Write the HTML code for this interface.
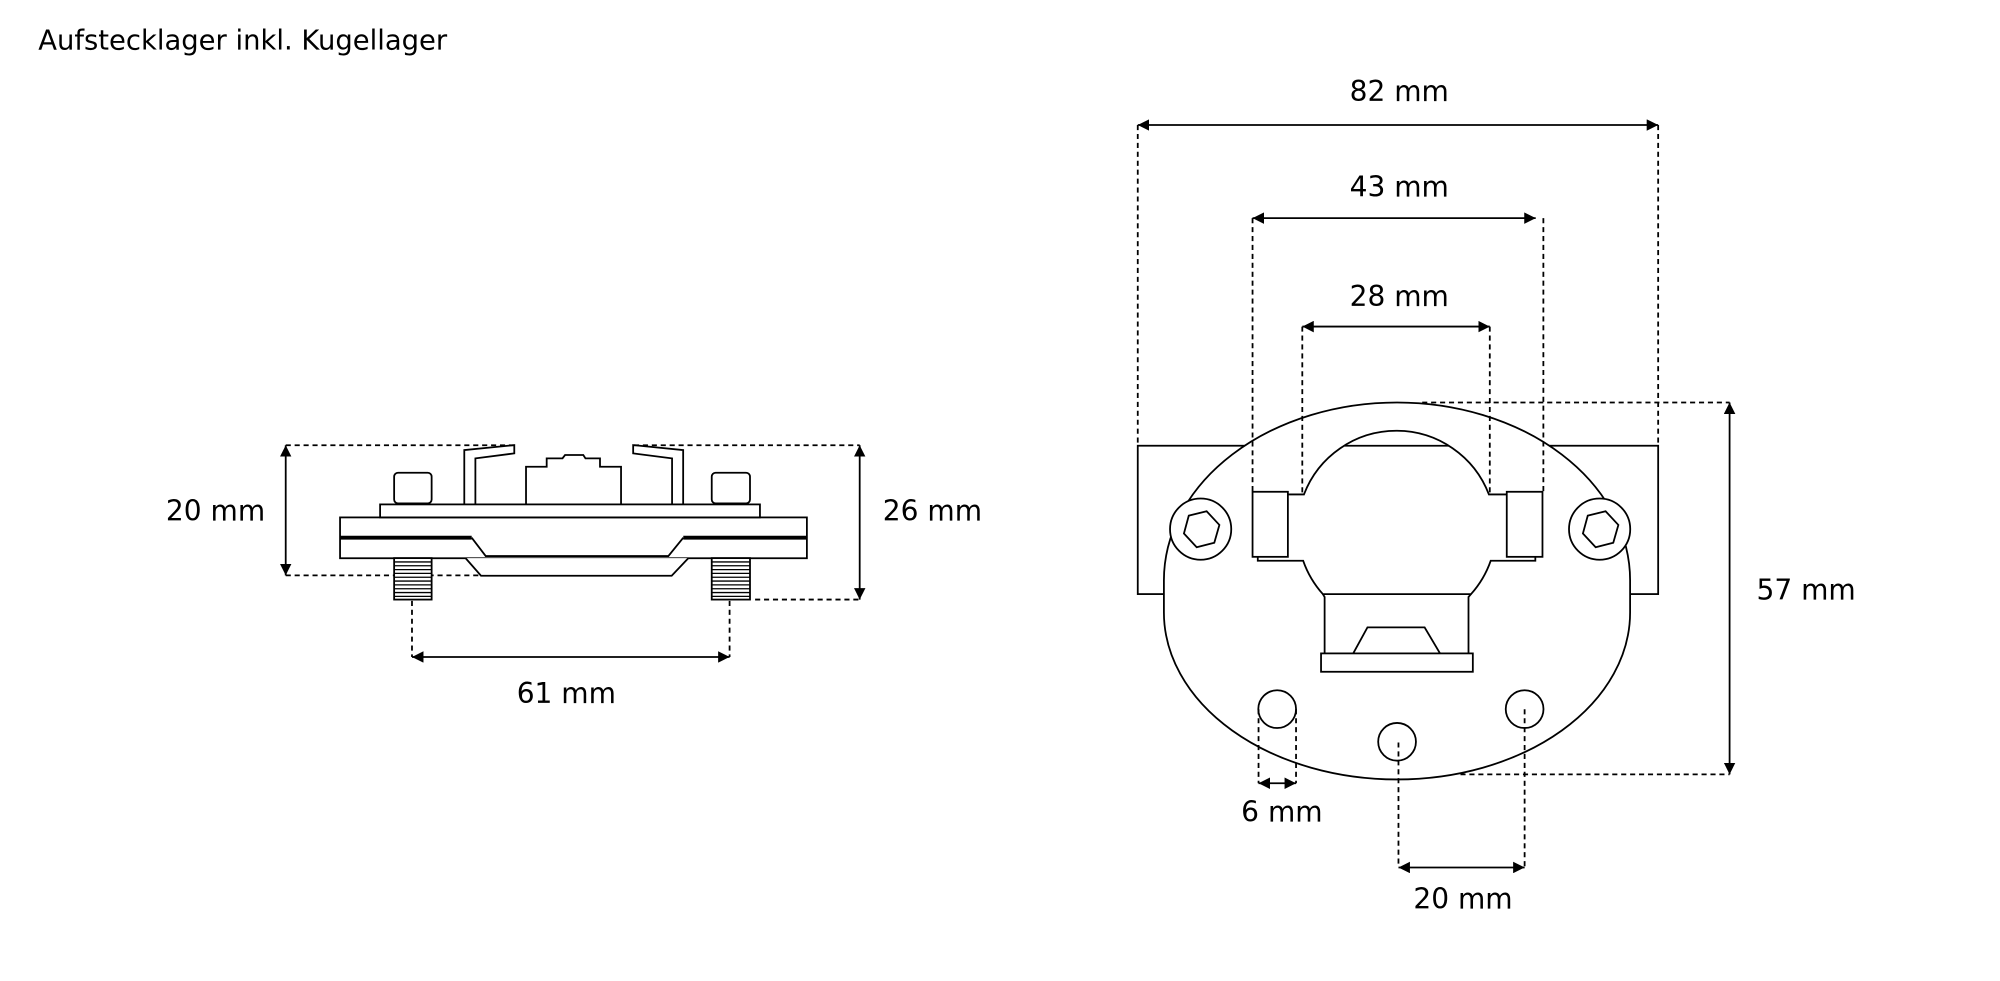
<!DOCTYPE html>
<html><head><meta charset="utf-8"><style>
html,body{margin:0;padding:0;background:#fff;}
svg{display:block;}
text{font-family:"DejaVu Sans","Liberation Sans",sans-serif;fill:#000;}
</style></head><body>
<svg width="2000" height="981" viewBox="0 0 1568 769" preserveAspectRatio="none" xmlns="http://www.w3.org/2000/svg">
<defs>
<marker id="a" viewBox="0 0 10 10" refX="10" refY="5" markerWidth="9" markerHeight="9" markerUnits="userSpaceOnUse" orient="auto-start-reverse"><path d="M0,0 L10,5 L0,10 z" fill="#000"/></marker>
</defs>
<rect width="1568" height="769" fill="#fff"/>
<text x="30" y="39" font-size="21.5">Aufstecklager inkl. Kugellager</text>

<g fill="none" stroke="#000" stroke-width="1.4">
<!-- LEFT VIEW -->
<g stroke-dasharray="4,3">
<line x1="224" y1="349" x2="403" y2="349"/>
<line x1="497" y1="349" x2="674" y2="349"/>
<line x1="224" y1="451" x2="376" y2="451"/>
<line x1="592" y1="470" x2="674" y2="470"/>
<line x1="323" y1="471" x2="323" y2="515"/>
<line x1="572" y1="471" x2="572" y2="515"/>
</g>
<line x1="224" y1="349" x2="224" y2="451" marker-start="url(#a)" marker-end="url(#a)"/>
<line x1="674" y1="349" x2="674" y2="470" marker-start="url(#a)" marker-end="url(#a)"/>
<line x1="323" y1="515" x2="572" y2="515" marker-start="url(#a)" marker-end="url(#a)"/>

<rect x="266.6" y="405.6" width="366" height="32"/>
<line x1="266.6" y1="421.5" x2="369.8" y2="421.5" stroke-width="3"/>
<line x1="535.7" y1="421.5" x2="632.6" y2="421.5" stroke-width="3"/>
<polyline points="369.8,421.5 380.8,435.9 524,435.9 535.7,421.5"/>
<polyline points="365,437.5 377.1,451.3 526.6,451.3 539.7,437.5" fill="#fff"/>
<rect x="298" y="395.4" width="297.8" height="10.2"/>
<rect x="309" y="370.6" width="29.4" height="24" rx="3"/>
<rect x="558" y="370.6" width="30" height="24" rx="3"/>
<polyline points="364,395.4 364,352.8 403.2,348.9 403.2,355.4 372.7,359.3 372.7,395.4"/>
<polyline points="535.6,395.4 535.6,352.8 496.4,348.9 496.4,355.4 526.9,359.3 526.9,395.4"/>
<polyline points="412.4,395.4 412.4,365.9 428.6,365.9 428.6,359.3 441,359.3 443,356.7 457.3,356.7 459,359.3 470.4,359.3 470.4,365.9 486.9,365.9 486.9,395.4"/>
<g stroke-width="1">
<rect x="309" y="437.5" width="29.4" height="32.5" fill="#fff" stroke-width="1.4"/>
<rect x="558" y="437.5" width="30" height="32.5" fill="#fff" stroke-width="1.4"/>
<path d="M309,440.5h29.4M309,443.5h29.4M309,446.5h29.4M309,449.5h29.4M309,452.5h29.4M309,455.5h29.4M309,458.5h29.4M309,461.5h29.4M309,464.5h29.4M309,467.5h29.4"/>
<path d="M558,440.5h30M558,443.5h30M558,446.5h30M558,449.5h30M558,452.5h30M558,455.5h30M558,458.5h30M558,461.5h30M558,464.5h30M558,467.5h30"/>
</g>

<!-- RIGHT VIEW -->
<rect x="892" y="349.4" width="408" height="116.3"/>
<path d="M912.5,455 A182.75,139.5 0 0 1 1278,455 L1278,480 A182.75,131 0 0 1 912.5,480 Z" fill="#fff"/>
<line x1="1054" y1="349.4" x2="1136" y2="349.4"/>

<g stroke-dasharray="4,3">
<line x1="892" y1="98" x2="892" y2="349"/>
<line x1="1300" y1="98" x2="1300" y2="349"/>
<line x1="982" y1="171" x2="982" y2="385"/>
<line x1="1210" y1="171" x2="1210" y2="385"/>
<line x1="1021" y1="256" x2="1021" y2="387"/>
<line x1="1168" y1="256" x2="1168" y2="387"/>
<line x1="1115" y1="315.5" x2="1356" y2="315.5"/>
<line x1="1145" y1="607" x2="1356" y2="607"/>
<line x1="986.7" y1="556" x2="986.7" y2="614"/>
<line x1="1016.1" y1="556" x2="1016.1" y2="614"/>
<line x1="1096.4" y1="582" x2="1096.4" y2="680"/>
<line x1="1195.3" y1="556" x2="1195.3" y2="680"/>
</g>
<line x1="892" y1="98" x2="1300" y2="98" marker-start="url(#a)" marker-end="url(#a)"/>
<line x1="982" y1="171" x2="1204" y2="171" marker-start="url(#a)" marker-end="url(#a)"/>
<line x1="1021" y1="256" x2="1168" y2="256" marker-start="url(#a)" marker-end="url(#a)"/>
<line x1="1356" y1="315.5" x2="1356" y2="607" marker-start="url(#a)" marker-end="url(#a)"/>
<line x1="986.7" y1="614" x2="1016.1" y2="614" marker-start="url(#a)" marker-end="url(#a)"/>
<line x1="1096.4" y1="680" x2="1195.3" y2="680" marker-start="url(#a)" marker-end="url(#a)"/>

<path d="M1009.7,387.6 H1022.3 A77.6,77.6 0 0 1 1167.3,387.6 H1181.3 M1203.7,436.5 V439.6 H1168.7 A77.6,77.6 0 0 1 1153.3,465.7 H1037.1 A77.6,77.6 0 0 1 1021.7,439.6 H986.1 V436.5"/>
<rect x="982" y="385.5" width="27.7" height="51" fill="#fff"/>
<rect x="1181.3" y="385.5" width="28" height="51" fill="#fff"/>
<polyline points="1037.1,465.7 1038.5,468 1038.5,512.2"/>
<polyline points="1153.3,465.7 1151.3,468 1151.3,512.2"/>
<rect x="1035.7" y="512.2" width="119" height="14.4"/>
<polyline points="1060.9,512.2 1072.1,491.8 1116.9,491.8 1129,512.2"/>
<circle cx="941.3" cy="414.8" r="24" fill="#fff"/>
<circle cx="1254.1" cy="414.8" r="24" fill="#fff"/>
<polygon points="932,404.2 946,400.8 956,411.5 952,425.5 938.2,429 928.2,418.2"/>
<polygon points="1244.8,404.2 1258.8,400.8 1268.8,411.5 1264.8,425.5 1251,429 1241,418.2"/>
<circle cx="1001.3" cy="555.9" r="14.8"/>
<circle cx="1095.3" cy="581.5" r="14.8"/>
<circle cx="1195.3" cy="555.9" r="14.8"/>
</g>

<g font-size="22" text-anchor="middle">
<text x="169" y="408">20 mm</text>
<text x="731" y="408">26 mm</text>
<text x="444" y="551">61 mm</text>
<text x="1097" y="79">82 mm</text>
<text x="1097" y="154">43 mm</text>
<text x="1097" y="240">28 mm</text>
<text x="1416" y="470">57 mm</text>
<text x="1005" y="644">6 mm</text>
<text x="1147" y="712">20 mm</text>
</g>
</svg>
</body></html>
